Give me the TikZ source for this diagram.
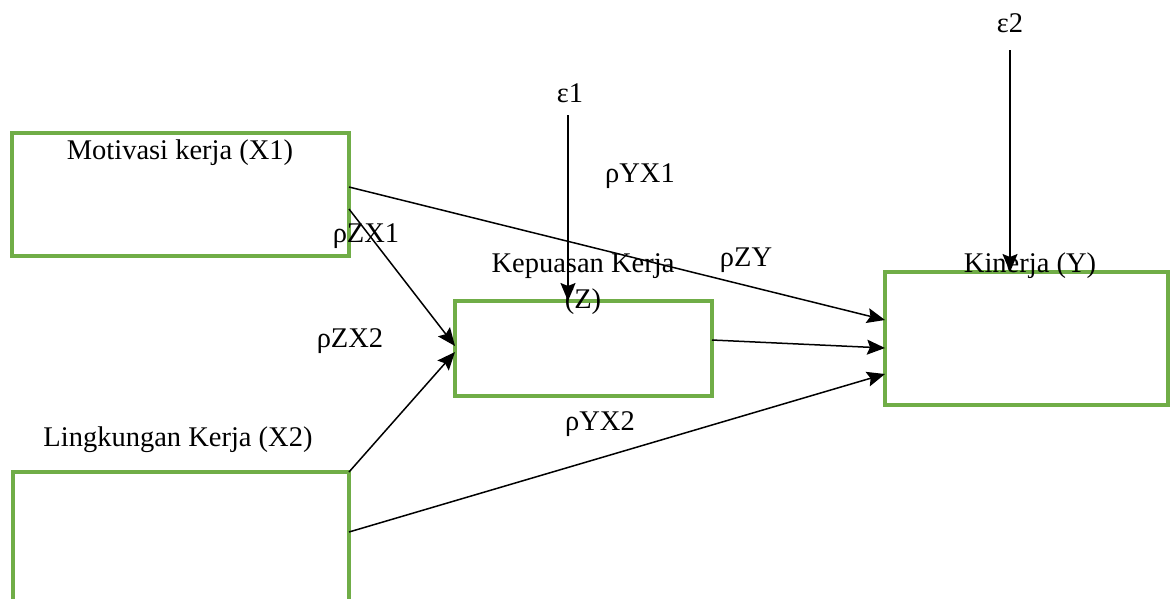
\documentclass[tikz,border=0pt]{standalone}
\usepackage{fontspec}
\setmainfont{Liberation Serif}
\usetikzlibrary{arrows.meta}
\definecolor{boxgreen}{RGB}{112,173,71}
\begin{document}
\begin{tikzpicture}[x=1pt,y=-1pt,
  box/.style={draw=boxgreen,line width=3.2pt,fill=none,anchor=north west,inner sep=0pt,outer sep=0pt},
  lbl/.style={inner sep=0pt,anchor=base,font=\fontsize{28.5}{34}\selectfont},
  conn/.style={line width=1.5pt,-{Stealth[length=18pt,width=15pt,inset=3pt]}}]
\useasboundingbox (0,0) rectangle (1175,598);
\clip (0,0) rectangle (1175,598);
% boxes
\node[box,minimum width=337pt,minimum height=123pt] (x1) at (12,133) {};
\node[box,minimum width=257pt,minimum height=95pt] (z) at (455,301) {};
\node[box,minimum width=283pt,minimum height=133pt] (y) at (885,272) {};
\node[box,minimum width=336pt,minimum height=150pt] (x2) at (13,472) {};
% labels
\node[lbl] (tx1) at (180,159) {Motivasi kerja (X1)};
\node[lbl] (tx2) at (178,446) {Lingkungan Kerja (X2)};
\node[lbl] (tz1) at (583,272) {Kepuasan Kerja};
\node[lbl] (tz2) at (583,308) {(Z)};
\node[lbl] (ty) at (1030,272) {Kinerja (Y)};
\node[lbl] (e1) at (570,102) {ε1};
\node[lbl] (e2) at (1010,32) {ε2};
\node[lbl] (pzx1) at (366,242) {ρZX1};
\node[lbl] (pzx2) at (350,347) {ρZX2};
\node[lbl] (pyx1) at (640,182) {ρYX1};
\node[lbl] (pzy) at (746,266) {ρZY};
\node[lbl] (pyx2) at (600,430) {ρYX2};
% connector start points
\coordinate (e1s) at (568,115);
\coordinate (e2s) at (1010,50);
% connectors
\draw[conn] ([yshift=-54pt]x1.north east) -- ([yshift=-48pt]y.north west);
\draw[conn] ([yshift=-76pt]x1.north east) -- ([yshift=-45pt]z.north west);
\draw[conn] (x2.north east) -- ([yshift=-51pt]z.north west);
\draw[conn] ([yshift=-39pt]z.north east) -- ([yshift=-76pt]y.north west);
\draw[conn] ([yshift=-60pt]x2.north east) -- ([yshift=-102pt]y.north west);
\draw[conn] (e1s) -- (e1s |- z.north);
\draw[conn] (e2s) -- (e2s |- y.north);
\end{tikzpicture}
\end{document}
